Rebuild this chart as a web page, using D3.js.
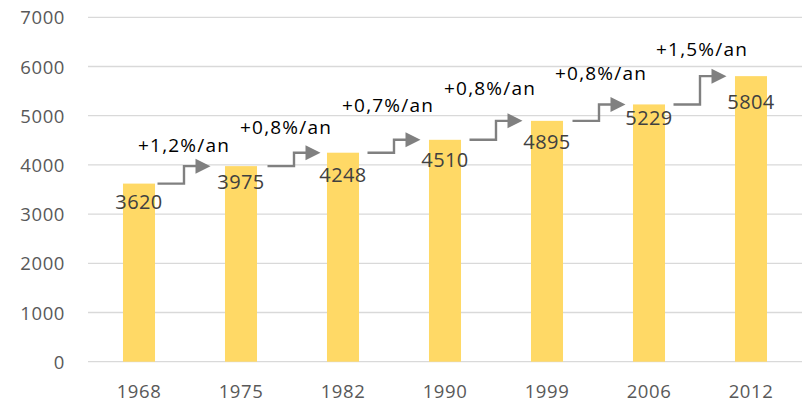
<!DOCTYPE html>
<html>
<head>
<meta charset="utf-8">
<script src="https://cdn.jsdelivr.net/npm/d3@7"></script>
<style>
  html, body { margin: 0; padding: 0; background: #fff; }
  svg { display: block; }
  text { font-family: "Open Sans", "Noto Sans", sans-serif; }
</style>
</head>
<body>
<svg id="chart" width="810" height="403"></svg>
<script>
// Population by census year
const years = ["1968", "1975", "1982", "1990", "1999", "2006", "2012"];
const population = [3620, 3975, 4248, 4510, 4895, 5229, 5804];
// Average annual growth between consecutive censuses
const growthLabels = ["+1,2%/an", "+0,8%/an", "+0,7%/an", "+0,8%/an", "+0,8%/an", "+1,5%/an"];
const yTicks = [0, 1000, 2000, 3000, 4000, 5000, 6000, 7000];

// Layout tweaks: nudges of value labels, arrows and growth labels
const valueLabelDy = [18, 16, 22, 20, 21, 13, 26];
const arrowDx = [-6, 2, 0, 0, 1, 0];
const growthLabelDx = [0, -8, -6, -6, 2, 2];
const growthLabelDy = [-14, -19, -28, -26, -24, -20];

const FONT = "'Open Sans', 'Noto Sans', sans-serif";
const svg = d3.select("#chart");
const plotLeft = 88, plotRight = 802, plotTop = 17.3, plotBottom = 361.7;

const x = d3.scaleBand()
  .domain(years)
  .range([plotLeft, plotRight])
  .paddingInner(0.686)
  .paddingOuter(0.343);

const y = d3.scaleLinear()
  .domain([0, 7000])
  .range([plotBottom, plotTop]);

// Horizontal gridlines
svg.append("g")
  .selectAll("line")
  .data(yTicks)
  .join("line")
  .attr("x1", plotLeft)
  .attr("x2", plotRight)
  .attr("y1", d => y(d))
  .attr("y2", d => y(d))
  .attr("stroke", "#d9d9d9")
  .attr("stroke-width", 1.3);

// Y axis labels
const yAxis = d3.axisLeft(y).tickValues(yTicks).tickSize(0).tickPadding(0).tickFormat(d3.format("d"));
const yG = svg.append("g").attr("transform", `translate(65,0)`).call(yAxis);
yG.select(".domain").remove();
yG.selectAll("text")
  .attr("fill", "#595959")
  .attr("font-size", 18.5)
  .attr("letter-spacing", 0.6)
  .attr("dy", "0.36em")
  .style("font-family", FONT);

// X axis labels
const xAxis = d3.axisBottom(x).tickSize(0).tickPadding(0);
const xG = svg.append("g").attr("transform", `translate(0,${plotBottom})`).call(xAxis);
xG.select(".domain").remove();
xG.selectAll("text")
  .attr("fill", "#595959")
  .attr("font-size", 18.5)
  .attr("letter-spacing", 0.6)
  .attr("y", 36)
  .attr("dy", 0)
  .style("font-family", FONT);

// Bars
svg.append("g")
  .selectAll("rect")
  .data(population)
  .join("rect")
  .attr("x", (d, i) => x(years[i]))
  .attr("width", x.bandwidth())
  .attr("y", d => y(d))
  .attr("height", d => plotBottom - y(d))
  .attr("fill", "#ffd966");

// Value labels
svg.append("g")
  .selectAll("text")
  .data(population)
  .join("text")
  .attr("x", (d, i) => x(years[i]) + x.bandwidth() / 2)
  .attr("y", (d, i) => y(d) + valueLabelDy[i])
  .attr("dy", "0.36em")
  .attr("text-anchor", "middle")
  .attr("fill", "#404040")
  .attr("font-size", 20)
  .attr("letter-spacing", 0.4)
  .style("font-family", FONT)
  .text(d => d);

// Step arrows between consecutive bars
const arrowHalf = 26.5, headLen = 15, headHalf = 7.5;
const arrows = growthLabels.map((g, i) => {
  const mid = (x(years[i]) + x(years[i + 1]) + x.bandwidth()) / 2 + arrowDx[i];
  return { label: g, mid, y1: y(population[i]), y2: y(population[i + 1]), i };
});

const ag = svg.append("g");
ag.selectAll("path.stem")
  .data(arrows)
  .join("path")
  .attr("class", "stem")
  .attr("d", a => `M${a.mid - arrowHalf},${a.y1}H${a.mid}V${a.y2}H${a.mid + arrowHalf - headLen + 1}`)
  .attr("fill", "none")
  .attr("stroke", "#808080")
  .attr("stroke-width", 2.4);

ag.selectAll("path.head")
  .data(arrows)
  .join("path")
  .attr("class", "head")
  .attr("d", a => {
    const tip = a.mid + arrowHalf;
    return `M${tip},${a.y2}L${tip - headLen},${a.y2 - headHalf}L${tip - headLen},${a.y2 + headHalf}Z`;
  })
  .attr("fill", "#808080");

// Growth rate labels
ag.selectAll("text")
  .data(arrows)
  .join("text")
  .attr("x", a => a.mid + growthLabelDx[a.i])
  .attr("y", a => a.y2 + growthLabelDy[a.i])
  .attr("text-anchor", "middle")
  .attr("fill", "#000")
  .attr("font-size", 19)
  .attr("letter-spacing", 1.2)
  .style("font-family", FONT)
  .text(a => a.label);
</script>
</body>
</html>
